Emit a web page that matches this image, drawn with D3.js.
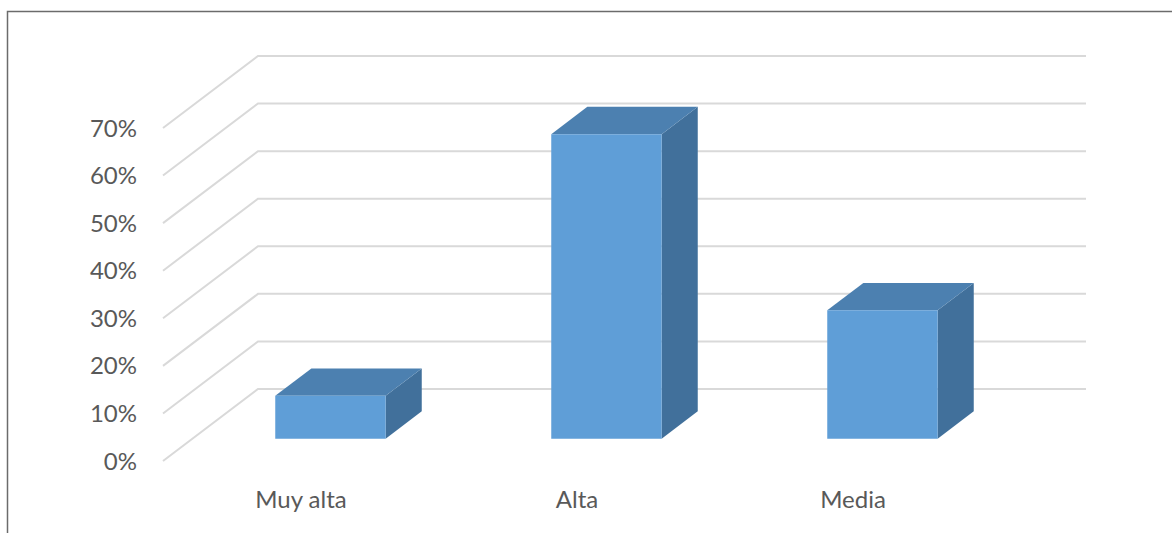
<!DOCTYPE html>
<html>
<head>
<meta charset="utf-8">
<script src="https://cdn.jsdelivr.net/npm/d3@7"></script>
<style>
  body { margin: 0; background: #fff; }
  svg { display: block; }
</style>
</head>
<body>
<div id="chart"></div>
<script>
const categories = ["Muy alta", "Alta", "Media"]
const values = [0.09, 0.64, 0.27]
const ticks = [0, 0.1, 0.2, 0.3, 0.4, 0.5, 0.6, 0.7]

const w = 1172
const h = 533

// 3d depth: how far back the back wall sits
const depthX = 95
const depthY = -72
const barFront = 0.31
const barBack = 0.69

const textColor = "#595959"
const gridColor = "#d9d9d9"
const frontColor = "#5f9ed7"
const topColor = "#4c80b0"
const sideColor = "#41709b"

const svg = d3.select('#chart').append('svg')
  .attr('width', w)
  .attr('height', h)

const x = d3.scaleBand()
  .domain(categories)
  .range([163, 991])
  .padding(0)

const y = d3.scaleLinear()
  .domain([0, 0.7])
  .range([461, 128])

const project = (px, v, d) => [px + depthX * d, y(v) + depthY * d]

// frame
svg.append('path')
  .attr('d', `M7.5,${h} V11.5 H${w}`)
  .attr('fill', 'none')
  .attr('stroke', '#6b6b6b')
  .attr('stroke-width', 1.5)

// gridlines: diagonal side wall + back wall
svg.append('g')
  .selectAll('path')
  .data(ticks).enter()
  .append('path')
    .attr('d', t => {
      const a = project(x.range()[0], t, 0)
      const b = project(x.range()[0], t, 1)
      const c = project(x.range()[1], t, 1)
      return `M${a}L${b}L${c}`
    })
    .attr('fill', 'none')
    .attr('stroke', gridColor)
    .attr('stroke-width', 2)

// tick labels
svg.append('g')
  .selectAll('text')
  .data(ticks).enter()
  .append('text')
    .attr('x', 137)
    .attr('y', t => y(t))
    .attr('dy', '0.36em')
    .attr('text-anchor', 'end')
    .style('font-family', 'Lato, sans-serif')
    .style('font-size', '24px')
    .attr('fill', textColor)
    .text(d3.format('.0%'))

// bars
const bw = x.bandwidth() * 0.4
const bars = svg.append('g')
  .selectAll('g')
  .data(categories.map((c, i) => ({ cat: c, value: values[i] }))).enter()
  .append('g')

const x0 = d => x(d.cat) + (x.bandwidth() - bw) / 2

bars.append('path') // side
  .attr('d', d => {
    const p = [
      project(x0(d) + bw, 0, barFront), project(x0(d) + bw, 0, barBack),
      project(x0(d) + bw, d.value, barBack), project(x0(d) + bw, d.value, barFront)]
    return 'M' + p.join('L') + 'Z'
  })
  .attr('fill', sideColor)

bars.append('path') // top
  .attr('d', d => {
    const p = [
      project(x0(d), d.value, barFront), project(x0(d) + bw, d.value, barFront),
      project(x0(d) + bw, d.value, barBack), project(x0(d), d.value, barBack)]
    return 'M' + p.join('L') + 'Z'
  })
  .attr('fill', topColor)

bars.append('path') // front
  .attr('d', d => {
    const p = [
      project(x0(d), 0, barFront), project(x0(d) + bw, 0, barFront),
      project(x0(d) + bw, d.value, barFront), project(x0(d), d.value, barFront)]
    return 'M' + p.join('L') + 'Z'
  })
  .attr('fill', frontColor)

// category labels
svg.append('g')
  .selectAll('text')
  .data(categories).enter()
  .append('text')
    .attr('x', d => x(d) + x.bandwidth() / 2)
    .attr('y', 508)
    .attr('text-anchor', 'middle')
    .style('font-family', 'Lato, sans-serif')
    .style('font-size', '24px')
    .attr('fill', textColor)
    .text(d => d)
</script>
</body>
</html>
